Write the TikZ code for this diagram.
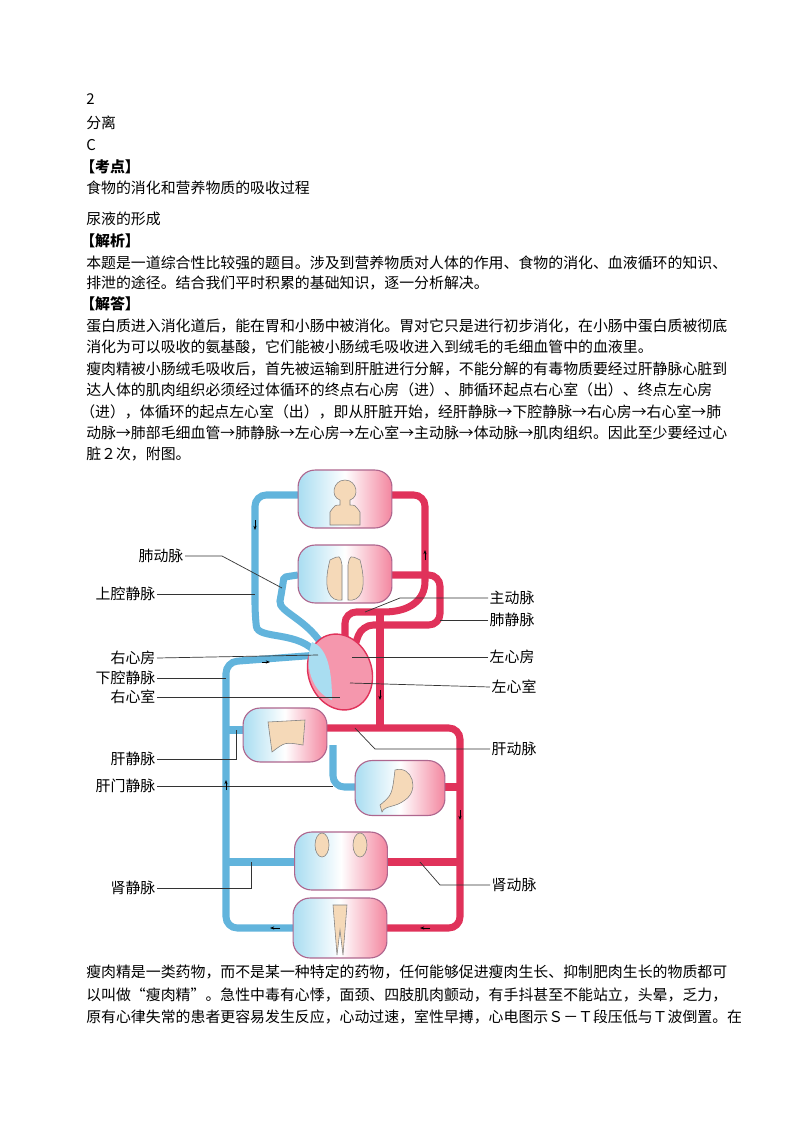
\documentclass[tikz,border=0pt]{standalone}
\usepackage{fontspec}
\setmainfont{Noto Sans CJK SC}
\usetikzlibrary{arrows.meta,shapes.geometric}
\definecolor{bv}{HTML}{62B4DC}
\definecolor{bvl}{HTML}{A9DDF1}
\definecolor{rv}{HTML}{E0325A}
\definecolor{rvl}{HTML}{EE5276}
\definecolor{beige}{HTML}{F5D9B8}
\begin{document}
\begin{tikzpicture}[x=0.025cm,y=-0.025cm,
  txt/.style={anchor=base west,inner sep=0pt,font=\fontsize{10.6pt}{12pt}\selectfont},
  lab/.style={inner sep=1pt,font=\fontsize{10.6pt}{12pt}\selectfont},
  organ/.style={draw=rv!60!bv,line width=0.8pt,rounded corners=12pt,minimum width=#1,left color=bvl,right color=rvl!70,middle color=white,inner sep=0pt},
  blue/.style={draw=bv,line width=5pt,rounded corners=8pt},
  red/.style={draw=rv,line width=5pt,rounded corners=8pt},
  ll/.style={draw=black!80,line width=0.5pt},
  ar/.style={-{Stealth[length=3pt]},black,line width=0.5pt}]
\useasboundingbox (0,0) rectangle (800,1132);
\node[txt] (t1) at (86,104) {2};
\node[txt] (t2) at (86,128) {分离};
\node[txt] (t3) at (86,150) {C};
\node[txt,font=\fontsize{10.6pt}{12pt}\selectfont\bfseries] (t4) at (80,172) {【考点】};
\node[txt] (t5) at (86,193) {食物的消化和营养物质的吸收过程};
\node[txt] (t6) at (86,224) {尿液的形成};
\node[txt,font=\fontsize{10.6pt}{12pt}\selectfont\bfseries] (t7) at (80,246) {【解析】};
\node[txt] (t8) at (86,268) {本题是一道综合性比较强的题目。涉及到营养物质对人体的作用、食物的消化、血液循环的知识、};
\node[txt] (t9) at (86,288) {排泄的途径。结合我们平时积累的基础知识，逐一分析解决。};
\node[txt,font=\fontsize{10.6pt}{12pt}\selectfont\bfseries] (t10) at (80,309) {【解答】};
\node[txt] (t11) at (86,331) {蛋白质进入消化道后，能在胃和小肠中被消化。胃对它只是进行初步消化，在小肠中蛋白质被彻底};
\node[txt] (t12) at (86,352) {消化为可以吸收的氨基酸，它们能被小肠绒毛吸收进入到绒毛的毛细血管中的血液里。};
\node[txt] (t13) at (86,374) {瘦肉精被小肠绒毛吸收后，首先被运输到肝脏进行分解，不能分解的有毒物质要经过肝静脉心脏到};
\node[txt] (t14) at (86,395) {达人体的肌肉组织必须经过体循环的终点右心房（进）、肺循环起点右心室（出）、终点左心房};
\node[txt] (t15) at (80,417) {（进），体循环的起点左心室（出），即从肝脏开始，经肝静脉→下腔静脉→右心房→右心室→肺};
\node[txt] (t16) at (86,438) {动脉→肺部毛细血管→肺静脉→左心房→左心室→主动脉→体动脉→肌肉组织。因此至少要经过心};
\node[txt] (t17) at (86,459) {脏２次，附图。};
\node[txt] (t18) at (86,977) {瘦肉精是一类药物，而不是某一种特定的药物，任何能够促进瘦肉生长、抑制肥肉生长的物质都可};
\node[txt] (t19) at (86,1000) {以叫做“瘦肉精”。急性中毒有心悸，面颈、四肢肌肉颤动，有手抖甚至不能站立，头晕，乏力，};
\node[txt] (t20) at (86,1022) {原有心律失常的患者更容易发生反应，心动过速，室性早搏，心电图示Ｓ－Ｔ段压低与Ｔ波倒置。在};
% vessels blue
\coordinate (ra) at (318,655);
\coordinate (rvn) at (325,650);
\draw[blue] (298,495) -- (255,495) -- (255,615) .. controls (258,640) and (300,630) .. (ra);
\draw[blue] (ra) -- (226,662) -- (226,928) -- (293,928);
\draw[blue] (295,862) -- (226,862);
\draw[blue] (243,730) -- (226,730);
\draw[blue] (355,787) -- (333,787) -- (333,745);
\draw[blue] (rvn) .. controls (310,620) and (278,612) .. (282,590) .. controls (284,577) .. (298,575);
% vessels red
\draw[red] (345,645) -- (345,612) -- (372,612) .. controls (410,612) and (425,600) .. (425,570) -- (425,495) -- (392,495);
\draw[red] (380,615) -- (380,728);
\draw[red] (327,728) -- (460,728) -- (460,928) -- (387,928);
\draw[red] (445,787) -- (460,787);
\draw[red] (388,862) -- (460,862);
\draw[red] (392,575) -- (440,575) -- (440,625) -- (362,625) -- (355,645);
% heart
\node[draw=rv,line width=1pt,fill=rvl!60,ellipse,minimum width=45pt,minimum height=55pt,rotate=20,inner sep=0pt] (heart) at (340,672) {};
\fill[bvl] (312,642) .. controls (328,648) and (332,672) .. (332,700) .. controls (312,692) and (303,665) .. (312,642);
% organs
\node[organ=94*0.71pt,minimum height=58*0.71pt] (head) at (345,499) {};
\node[organ=94*0.71pt,minimum height=58*0.71pt] (lung) at (345,574) {};
\node[organ=84*0.71pt,minimum height=54*0.71pt] (liver) at (285,735) {};
\node[organ=90*0.71pt,minimum height=55*0.71pt] (stom) at (400,788) {};
\node[organ=93*0.71pt,minimum height=58*0.71pt] (kid) at (341,861) {};
\node[organ=94*0.71pt,minimum height=60*0.71pt] (legs) at (340,928) {};
\fill[beige,draw=black!50] (330,525) -- (330,512) .. controls (335,505) .. (340,505) -- (340,500) .. controls (330,497) and (333,480) .. (345,480) .. controls (357,480) and (360,497) .. (350,500) -- (350,505) .. controls (355,505) .. (360,512) -- (360,525) -- cycle;
\fill[beige,draw=black!50] (330,560) .. controls (340,555) .. (342,565) -- (342,600) .. controls (330,602) and (322,590) .. (330,560);
\fill[beige,draw=black!50] (360,560) .. controls (350,555) .. (348,565) -- (348,600) .. controls (360,602) and (368,590) .. (360,560);
\fill[beige,draw=black!50] (268,722) -- (305,720) -- (303,745) .. controls (285,742) .. (272,752) -- cycle;
\fill[beige,draw=black!50] (395,770) .. controls (412,765) and (420,790) .. (405,800) .. controls (395,808) and (385,805) .. (382,812) -- (380,805) .. controls (392,795) .. (395,770);
\fill[beige,draw=black!50] (322,845) ellipse (7 and 12);
\fill[beige,draw=black!50] (360,845) ellipse (7 and 12);
\fill[beige,draw=black!50] (333,905) -- (347,905) -- (343,955) -- (340,930) -- (337,955) -- cycle;
% labels left
\node[lab,anchor=east] (l1) at (185,556) {肺动脉};
\node[lab,anchor=east] (l2) at (157,594) {上腔静脉};
\node[lab,anchor=east] (l3) at (157,658) {右心房};
\node[lab,anchor=east] (l4) at (157,678) {下腔静脉};
\node[lab,anchor=east] (l5) at (157,697) {右心室};
\node[lab,anchor=east] (l6) at (157,759) {肝静脉};
\node[lab,anchor=east] (l7) at (157,786) {肝门静脉};
\node[lab,anchor=east] (l8) at (157,888) {肾静脉};
\draw[ll] (l1.east) -- (222,556) -- (282,588);
\draw[ll] (l2.east) -- (255,594);
\draw[ll] (l3.east) -- (ra);
\draw[ll] (l4.east) -- (226,678);
\draw[ll] (l5.east) -- (340,697);
\draw[ll] (l6.east) -- (236,759) -- (236,730);
\draw[ll] (l7.east) -- (333,786);
\draw[ll] (l8.east) -- (251,888) -- (251,862);
% labels right
\node[lab,anchor=west] (r1) at (488,598) {主动脉};
\node[lab,anchor=west] (r2) at (488,620) {肺静脉};
\node[lab,anchor=west] (r3) at (488,657) {左心房};
\node[lab,anchor=west] (r4) at (490,687) {左心室};
\node[lab,anchor=west] (r5) at (490,749) {肝动脉};
\node[lab,anchor=west] (r6) at (490,885) {肾动脉};
\draw[ll] (r1.west) -- (400,598) -- (365,612);
\draw[ll] (r2.west) -- (440,620);
\draw[ll] (r3.west) -- (352,657);
\draw[ll] (r4.west) -- (350,683);
\draw[ll] (r5.west) -- (375,749) -- (355,728);
\draw[ll] (r6.west) -- (440,885) -- (420,862);
% flow arrows
\draw[ar] (255,520) -- (255,530);
\draw[ar] (425,560) -- (425,550);
\draw[ar] (380,690) -- (380,700);
\draw[ar] (460,810) -- (460,820);
\draw[ar] (226,790) -- (226,780);
\draw[ar] (262,662) -- (270,662);
\draw[ar] (280,928) -- (270,928);
\draw[ar] (430,928) -- (420,928);
\end{tikzpicture}
\end{document}
